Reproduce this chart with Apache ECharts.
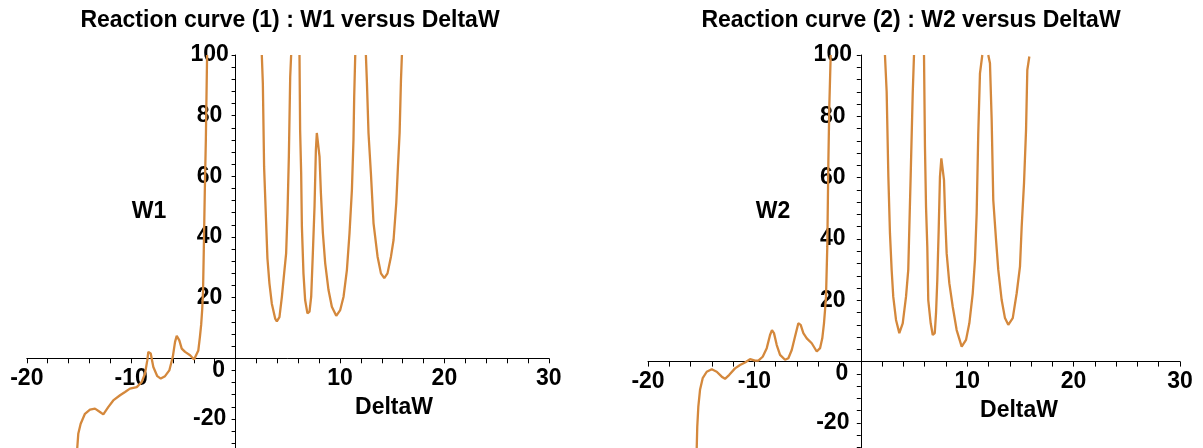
<!DOCTYPE html>
<html>
<head>
<meta charset="utf-8">
<script src="https://cdn.jsdelivr.net/npm/echarts@6/dist/echarts.min.js"></script>
<style>
html,body{margin:0;padding:0;background:#fff;}
#c{width:1203px;height:448px;}
</style>
</head>
<body>
<div id="c"></div>
<script>
// ---- data ----
const titles = ['Reaction curve (1) : W1 versus DeltaW', 'Reaction curve (2) : W2 versus DeltaW'];
const yNames = ['W1', 'W2'];
const xName = 'DeltaW';
const xTicks = [-20, -10, 0, 10, 20, 30];
const yTicks = [-40, -20, 0, 20, 40, 60, 80, 100];

// W1 versus DeltaW, one array per continuous branch
const w1BranchA = [[-15.2,-31],[-15.17,-29.7],[-15.07,-24.9],[-14.84,-21.6],[-14.43,-18.3],[-13.95,-16.9],[-13.47,-16.6],[-12.99,-17.7],[-12.67,-18.5],[-12.2,-16.1],[-11.72,-13.9],[-11.07,-12.2],[-10.59,-11.1],[-10.12,-10.0],[-9.47,-9.5],[-8.99,-7.8],[-8.68,-5.1],[-8.46,-0.7],[-8.36,2.1],[-8.13,1.6],[-7.88,-2.9],[-7.5,-5.9],[-7.17,-6.7],[-6.76,-5.9],[-6.35,-4.0],[-6.02,0.4],[-5.8,5.4],[-5.64,7.4],[-5.39,5.9],[-5.16,3.2],[-4.84,2.1],[-4.36,1.0],[-3.98,-0.4],[-3.79,-0.9],[-3.57,2.6],[-3.42,7],[-3.3,11],[-3.2,16],[-3.12,22],[-3.05,35],[-2.95,55],[-2.85,72],[-2.73,100]];
const w1BranchB = [[2.51,100],[2.61,90.7],[2.73,63.1],[2.92,45],[3.05,32.9],[3.24,24.7],[3.47,18],[3.79,13.1],[3.95,12.2],[4.2,13.6],[4.43,20.2],[4.65,28],[4.84,34.6],[4.97,47.8],[5.1,66.4],[5.23,92.8],[5.32,100]];
const w1BranchC = [[6.12,100],[6.18,75.3],[6.28,61],[6.35,43.4],[6.5,28],[6.66,19.2],[6.88,14.8],[7.08,15.4],[7.24,20.3],[7.4,34.7],[7.56,50],[7.69,68.7],[7.78,74.3],[7.94,74.3],[8.04,66.5],[8.17,54.5],[8.36,41.3],[8.58,31.4],[8.9,22.5],[9.22,17],[9.64,14],[10.02,15.9],[10.34,20.3],[10.66,29.1],[10.91,41.2],[11.14,55.5],[11.29,72],[11.36,86.3],[11.46,100]];
const w1BranchD = [[12.48,100],[12.58,90.8],[12.73,74.3],[12.96,61],[13.21,44.6],[13.6,33.5],[13.92,28],[14.24,26.4],[14.55,28],[14.88,33.5],[15.13,39],[15.39,51.2],[15.55,63.2],[15.71,74.3],[15.84,91.8],[15.93,100]];

// W2 versus DeltaW
const w2BranchA = [[-15.45,-31],[-15.42,-28.1],[-15.37,-21.2],[-15.27,-14.7],[-15.11,-9.2],[-14.86,-5.4],[-14.48,-3.3],[-14.01,-2.5],[-13.54,-3.3],[-13.07,-4.9],[-12.76,-5.6],[-12.36,-4.3],[-11.82,-2.2],[-11.35,-1.1],[-10.88,-0.3],[-10.41,0.8],[-9.94,0.3],[-9.63,0.3],[-9.22,1.6],[-8.84,4.4],[-8.53,8.7],[-8.35,10.3],[-8.16,9.3],[-7.9,5.4],[-7.59,2.2],[-7.12,0.6],[-6.81,1.1],[-6.49,3.8],[-6.18,8.2],[-5.87,12.5],[-5.65,12],[-5.4,9.3],[-5.08,7.6],[-4.61,6],[-4.14,3.3],[-3.83,4.4],[-3.62,7.6],[-3.46,12.5],[-3.36,16.9],[-3.27,21.2],[-3.15,37.5],[-3.05,64.7],[-2.96,83.1],[-2.83,100]];
const w2BranchB = [[2.27,100],[2.43,88],[2.59,60.3],[2.74,41.9],[2.9,29.9],[3.05,21.2],[3.31,13.6],[3.62,9.3],[3.94,12.5],[4.25,21.2],[4.46,29.9],[4.69,60.9],[4.88,87.5],[5.0,100]];
const w2BranchC = [[5.94,100],[6.03,70.1],[6.13,50.5],[6.25,37.5],[6.34,20.1],[6.57,12.5],[6.76,8.7],[6.95,9.3],[7.07,15.8],[7.19,26.6],[7.32,42.9],[7.44,60.3],[7.57,66.3],[7.7,66.3],[7.82,59.2],[7.94,46.2],[8.07,35.3],[8.32,25.6],[8.64,17.9],[9.01,10.3],[9.48,4.9],[9.89,7.1],[10.2,12.5],[10.52,22.3],[10.73,33.2],[10.89,48.4],[11.04,74.5],[11.2,94],[11.42,100]];
const w2BranchD = [[11.98,100],[12.14,97.3],[12.3,78.8],[12.45,52.7],[12.71,39.7],[12.92,29.9],[13.24,20.1],[13.55,14.2],[13.86,12],[14.28,14.2],[14.65,22.3],[14.96,31],[15.12,44],[15.34,58.2],[15.53,75.5],[15.65,95.1],[15.84,99.5]];

const curves = [
  [w1BranchA, w1BranchB, w1BranchC, w1BranchD],
  [w2BranchA, w2BranchB, w2BranchC, w2BranchD]
];

// ---- styles / layout ----
const FONT = '"Liberation Sans", Arial, sans-serif';
const CURVE = '#D4883C';
const grids = [
  { left: 26.8, top: 55, width: 522, height: 424.6, outerBoundsMode: 'none', containLabel: false },
  { left: 648, top: 55, width: 532, height: 429.3, outerBoundsMode: 'none', containLabel: false }
];
// axes sit at the origin inside each grid
const xAxisOffset = [-121.3, -122.7];
const yAxisOffset = [-208.8, -212.8];
const titlePos = [
  { main: [290, 9], yName: [149, 200], xName: [394, 396] },
  { main: [911, 9], yName: [773, 200], xName: [1019, 399] }
];
const yLabelMargin = [26, 28];

const chart = echarts.init(document.getElementById('c'), null, { renderer: 'canvas' });

const txt = { fontFamily: FONT, fontSize: 23, fontWeight: 'bold', color: '#000' };

const title = [];
const xAxis = [];
const yAxis = [];
const series = [];

[0, 1].forEach(function (i) {
  title.push({ text: titles[i], left: titlePos[i].main[0], top: titlePos[i].main[1], textAlign: 'center', padding: 0, textStyle: txt });
  title.push({ text: yNames[i], left: titlePos[i].yName[0], top: titlePos[i].yName[1], textAlign: 'center', padding: 0, textStyle: txt });
  title.push({ text: xName, left: titlePos[i].xName[0], top: titlePos[i].xName[1], textAlign: 'center', padding: 0, textStyle: txt });

  xAxis.push({
    type: 'value', gridIndex: i, position: 'bottom', offset: xAxisOffset[i],
    min: xTicks[0], max: xTicks[xTicks.length - 1], interval: xTicks[1] - xTicks[0],
    axisLine: { onZero: false, lineStyle: { color: '#000', width: 1 } },
    axisTick: { show: true, length: 5, lineStyle: { color: '#000' } },
    minorTick: { show: true, splitNumber: 5, length: 5, lineStyle: { color: '#000' } },
    splitLine: { show: false },
    axisLabel: {
      margin: 9, fontFamily: FONT, fontSize: 23, fontWeight: 'bold', color: '#000',
      showMinLabel: true, showMaxLabel: true, hideOverlap: false,
      formatter: function (v) { return v === 0 ? '' : String(v); }
    }
  });

  yAxis.push({
    type: 'value', gridIndex: i, position: 'left', offset: yAxisOffset[i],
    min: yTicks[0], max: yTicks[yTicks.length - 1], interval: yTicks[1] - yTicks[0],
    axisLine: { onZero: false, lineStyle: { color: '#000', width: 1 } },
    axisTick: { show: true, length: 4, lineStyle: { color: '#000' } },
    minorTick: { show: true, splitNumber: 5, length: 4, lineStyle: { color: '#000' } },
    splitLine: { show: false },
    axisLabel: {
      margin: yLabelMargin[i], align: 'center', fontFamily: FONT, fontSize: 23, fontWeight: 'bold', color: '#000',
      showMinLabel: true, showMaxLabel: true, hideOverlap: false,
      formatter: function (v) {
        if (v === yTicks[0]) return '';
        return v === 0 ? '{o|0}' : String(v);
      },
      rich: { o: { fontFamily: FONT, fontSize: 23, fontWeight: 'bold', color: '#000', padding: [24, 0, 0, 18] } }
    }
  });

  curves[i].forEach(function (branch) {
    series.push({
      type: 'line', xAxisIndex: i, yAxisIndex: i,
      data: branch, showSymbol: false, symbol: 'none', smooth: false, clip: true,
      lineStyle: { color: CURVE, width: 2.3 }, silent: true
    });
  });
});

chart.setOption({
  animation: false,
  backgroundColor: '#fff',
  title: title,
  grid: grids,
  xAxis: xAxis,
  yAxis: yAxis,
  series: series
});
</script>
</body>
</html>
